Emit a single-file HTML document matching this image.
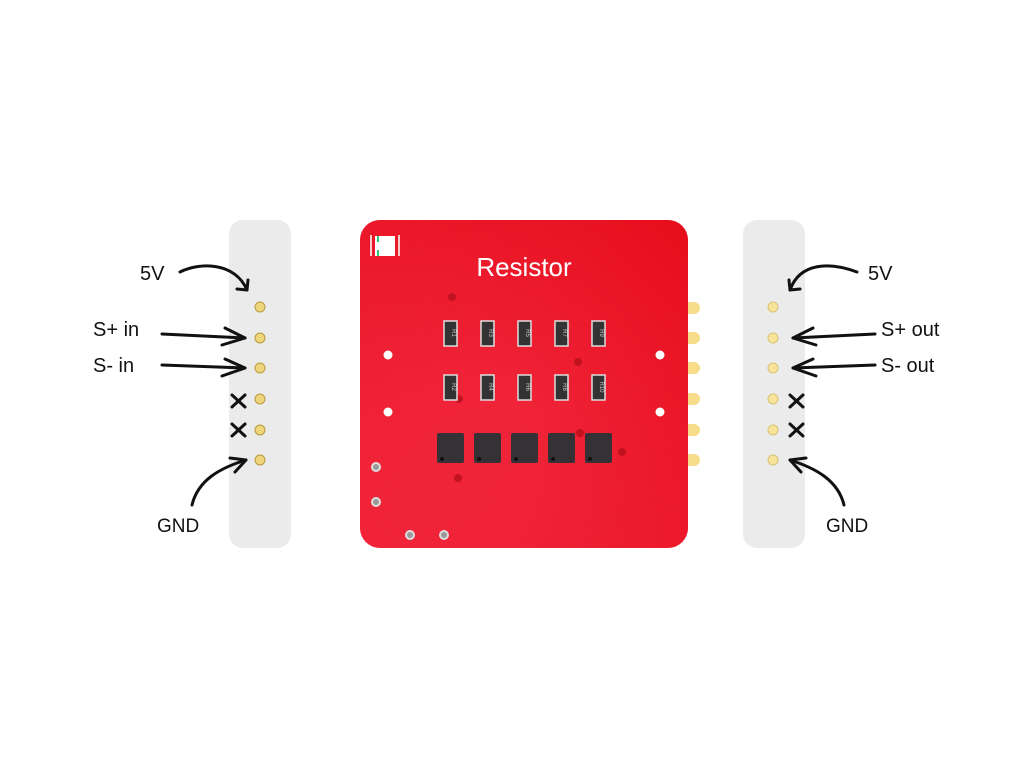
<!DOCTYPE html>
<html><head><meta charset="utf-8"><style>
html,body{margin:0;padding:0;background:#fff;width:1024px;height:768px;overflow:hidden}
text{font-family:"Liberation Sans",sans-serif}
</style></head><body>
<svg width="1024" height="768" viewBox="0 0 1024 768" xmlns="http://www.w3.org/2000/svg">
<defs>
<radialGradient id="bg" cx="0.45" cy="0.6" r="0.8">
<stop offset="0" stop-color="#f2293f"/><stop offset="1" stop-color="#e8101f"/>
</radialGradient>
<linearGradient id="bg2" x1="0" y1="1" x2="1" y2="0">
<stop offset="0" stop-color="#f53048"/><stop offset="1" stop-color="#e50a18"/>
</linearGradient>
</defs>
<!-- strips -->
<rect x="229" y="220" width="62" height="328" rx="14" fill="#ebebeb"/>
<rect x="743" y="220" width="62" height="328" rx="14" fill="#ebebeb"/>
<g fill="#eed47a" stroke="#b89a40" stroke-width="1">
<circle cx="260" cy="307" r="5"/><circle cx="260" cy="338" r="5"/><circle cx="260" cy="368" r="5"/>
<circle cx="260" cy="399" r="5"/><circle cx="260" cy="430" r="5"/><circle cx="260" cy="460" r="5"/>
</g>
<g fill="#f7e39a" stroke="#d8c27a" stroke-width="1">
<circle cx="773" cy="307" r="5"/><circle cx="773" cy="338" r="5"/><circle cx="773" cy="368" r="5"/>
<circle cx="773" cy="399" r="5"/><circle cx="773" cy="430" r="5"/><circle cx="773" cy="460" r="5"/>
</g>
<!-- pads on board right -->
<g fill="#f7dd8a">
<rect x="682" y="302" width="18" height="12" rx="6"/><rect x="682" y="332" width="18" height="12" rx="6"/>
<rect x="682" y="362" width="18" height="12" rx="6"/><rect x="682" y="393" width="18" height="12" rx="6"/>
<rect x="682" y="424" width="18" height="12" rx="6"/><rect x="682" y="454" width="18" height="12" rx="6"/>
</g>
<!-- board -->
<rect x="360" y="220" width="328" height="328" rx="20" fill="url(#bg2)"/>
<rect x="360" y="220" width="328" height="328" rx="20" fill="url(#bg)" opacity="0.5"/>
<!-- logo -->
<rect x="370" y="235" width="2" height="21" fill="#f3c9cc"/>
<rect x="398" y="235" width="2" height="21" fill="#f3c9cc"/>
<rect x="375" y="236" width="20" height="20" fill="#fff"/>
<rect x="377" y="236" width="2" height="6" fill="#2ecc71"/>
<rect x="377" y="250" width="2" height="6" fill="#2ecc71"/>
<text x="524" y="276" font-size="26" fill="#fff" text-anchor="middle">Resistor</text>
<!-- dark vias -->
<g fill="#b8101c" opacity="0.8">
<circle cx="452" cy="297" r="4"/><circle cx="578" cy="362" r="4"/><circle cx="459" cy="399" r="4"/>
<circle cx="580" cy="433" r="4"/><circle cx="622" cy="452" r="4"/><circle cx="458" cy="478" r="4"/>
</g>
<!-- resistors -->
<g font-size="6" fill="#ccc">
<g stroke="#ddd" stroke-width="1.5" fill="#333">
<rect x="444" y="321" width="13" height="25"/><rect x="481" y="321" width="13" height="25"/><rect x="518" y="321" width="13" height="25"/><rect x="555" y="321" width="13" height="25"/><rect x="592" y="321" width="13" height="25"/>
<rect x="444" y="375" width="13" height="25"/><rect x="481" y="375" width="13" height="25"/><rect x="518" y="375" width="13" height="25"/><rect x="555" y="375" width="13" height="25"/><rect x="592" y="375" width="13" height="25"/>
</g>
</g>
<g font-size="6" fill="#ccc" text-anchor="middle">
<text transform="translate(452,333) rotate(90)">R1</text><text transform="translate(489,333) rotate(90)">R3</text><text transform="translate(526,333) rotate(90)">R5</text><text transform="translate(563,333) rotate(90)">R7</text><text transform="translate(600,333) rotate(90)">R9</text>
<text transform="translate(452,387) rotate(90)">R2</text><text transform="translate(489,387) rotate(90)">R4</text><text transform="translate(526,387) rotate(90)">R6</text><text transform="translate(563,387) rotate(90)">R8</text><text transform="translate(600,387) rotate(90)">R10</text>
</g>
<!-- chips -->
<g fill="#353236">
<rect x="437" y="433" width="27" height="30" rx="2"/><rect x="474" y="433" width="27" height="30" rx="2"/><rect x="511" y="433" width="27" height="30" rx="2"/><rect x="548" y="433" width="27" height="30" rx="2"/><rect x="585" y="433" width="27" height="30" rx="2"/>
</g>
<g fill="#111"><circle cx="442" cy="459" r="2"/><circle cx="479" cy="459" r="2"/><circle cx="516" cy="459" r="2"/><circle cx="553" cy="459" r="2"/><circle cx="590" cy="459" r="2"/></g>
<!-- white holes -->
<g fill="#fff"><circle cx="388" cy="355" r="4.5"/><circle cx="388" cy="412" r="4.5"/><circle cx="660" cy="355" r="4.5"/><circle cx="660" cy="412" r="4.5"/></g>
<g fill="#999" stroke="#ddd" stroke-width="2"><circle cx="376" cy="467" r="4"/><circle cx="376" cy="502" r="4"/><circle cx="410" cy="535" r="4"/><circle cx="444" cy="535" r="4"/></g>
<!-- labels -->
<g font-size="20" fill="#111">
<text x="140" y="280">5V</text>
<text x="93" y="336">S+ in</text>
<text x="93" y="372">S- in</text>
<text x="157" y="532" font-size="19">GND</text>
<text x="868" y="280">5V</text>
<text x="881" y="336">S+ out</text>
<text x="881" y="372">S- out</text>
<text x="826" y="532" font-size="19">GND</text>
</g>
<g fill="none" stroke="#111" stroke-width="3" stroke-linecap="round" stroke-linejoin="round">
<path d="M180 272 C200 262 235 262 247 290"/><path d="M237 289 L247 290 L248 280"/>
<path d="M162 334 L245 338"/><path d="M225 328 L245 338 L222 345"/>
<path d="M162 365 L245 368"/><path d="M225 359 L245 368 L222 376"/>
<path d="M192 505 C198 480 220 468 246 460"/><path d="M230 458 L246 460 L235 472"/>
<path d="M232 395 L245 407 M245 395 L232 407"/><path d="M232 424 L245 436 M245 424 L232 436"/>
<path d="M857 272 C830 262 800 262 790 290"/><path d="M800 289 L790 290 L789 280"/>
<path d="M875 334 L793 338"/><path d="M813 328 L793 338 L816 345"/>
<path d="M875 365 L793 368"/><path d="M813 359 L793 368 L816 376"/>
<path d="M844 505 C838 480 815 468 790 460"/><path d="M806 458 L790 460 L801 472"/>
<path d="M790 395 L803 407 M803 395 L790 407"/><path d="M790 424 L803 436 M803 424 L790 436"/>
</g>
</svg>
</body></html>
